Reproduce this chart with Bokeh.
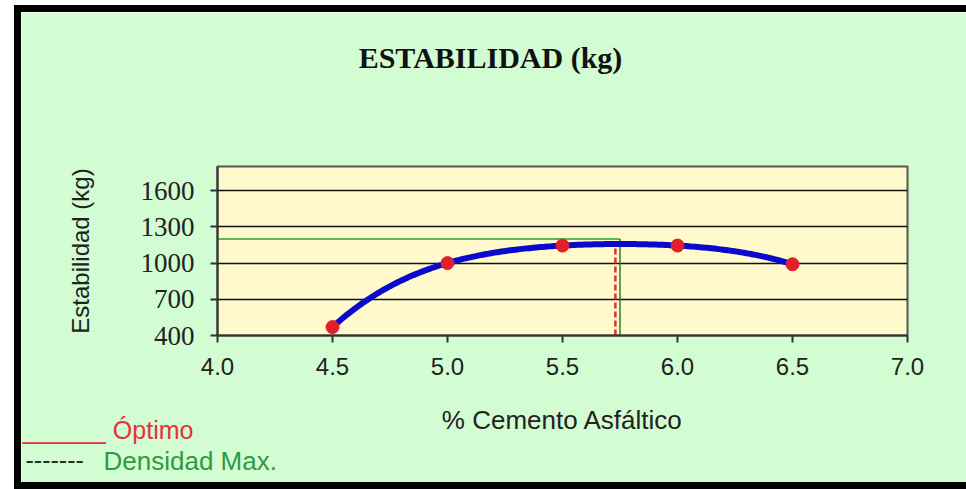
import numpy as np
from bokeh.plotting import figure
from bokeh.layouts import column
from bokeh.models import FixedTicker, Label, NumeralTickFormatter
from bokeh.embed import file_html
from bokeh.resources import INLINE

# ---- data ----
cemento = [4.5, 5.0, 5.5, 6.0, 6.5]
estabilidad = [470, 1000, 1145, 1145, 990]
x_ticks = [4.0, 4.5, 5.0, 5.5, 6.0, 6.5, 7.0]
y_ticks = [400, 700, 1000, 1300, 1600]
optimo_x = 5.73
dens_max_x = 5.75
dens_max_y = 1200
y_min, y_max = 400, 1800
x_min, x_max = 4.0, 7.0

# trendline (polynomial through the data)
coef = np.polyfit(cemento, estabilidad, 4)
xs = np.linspace(cemento[0], cemento[-1], 200)
ys = np.polyval(coef, xs)
optimo_y = float(np.polyval(coef, optimo_x))

# ---- layout geometry (page pixels) ----
BW = 7
BOX_L, BOX_T = 14, 5
CX0, CY0 = BOX_L + BW, BOX_T + BW          # canvas origin on the page
W, H = 966 - CX0, 489 - BW - CY0           # canvas size
FR_L, FR_R, FR_T, FR_B = 217, 907, 166, 335  # plot frame on the page

p = figure(width=W, height=H, output_backend="svg", toolbar_location=None,
           x_range=(x_min, x_max), y_range=(y_min, y_max),
           min_border_left=FR_L - CX0, min_border_right=CX0 + W - FR_R,
           min_border_top=FR_T - CY0, min_border_bottom=CY0 + H - FR_B)

p.border_fill_color = "#d2fcd2"
p.background_fill_color = "#fff9cc"
p.outline_line_color = "#555555"
p.outline_line_width = 2
p.title.text = ""

# axes
p.xaxis.ticker = FixedTicker(ticks=x_ticks)
p.yaxis.ticker = FixedTicker(ticks=y_ticks)
p.xaxis.formatter = NumeralTickFormatter(format="0.0")
p.xaxis.minor_tick_line_color = None
p.yaxis.minor_tick_line_color = None
for ax in (p.xaxis, p.yaxis):
    ax.axis_line_color = "#333333"
    ax.axis_line_width = 2
    ax.major_tick_line_color = "#333333"
    ax.major_tick_line_width = 2
    ax.major_tick_out = 7
    ax.major_tick_in = 0
    ax.major_label_text_color = "#222222"
    ax.axis_label_text_color = "#222222"
    ax.axis_label_text_font_style = "normal"

p.xaxis.major_label_text_font = "Liberation Sans"
p.xaxis.major_label_text_font_size = "24px"
p.xaxis.major_label_standoff = 15
p.xaxis.axis_label = "% Cemento Asfáltico"
p.xaxis.axis_label_text_font = "Liberation Sans"
p.xaxis.axis_label_text_font_size = "26px"
p.xaxis.axis_label_standoff = 27

p.yaxis.major_label_text_font = "Liberation Serif"
p.yaxis.major_label_text_font_size = "27px"
p.yaxis.major_label_standoff = 16
p.yaxis.axis_label = "Estabilidad (kg)"
p.yaxis.axis_label_text_font = "Liberation Sans"
p.yaxis.axis_label_text_font_size = "24px"
p.yaxis.axis_label_standoff = 44

# grid
p.xgrid.grid_line_color = None
p.ygrid.grid_line_color = "#111111"
p.ygrid.grid_line_width = 1.5

# reference lines
p.line([x_min, dens_max_x], [dens_max_y, dens_max_y], line_color="#5cb85c", line_width=2)
p.line([dens_max_x, dens_max_x], [y_min, dens_max_y], line_color="#2e7d32", line_width=1.5)
p.line([optimo_x, optimo_x], [y_min, optimo_y], line_color="#e03030", line_width=2.5, line_dash="6 3")

# trendline & points
p.line(xs, ys, line_color="#0a0acc", line_width=6)
p.scatter(cemento, estabilidad, size=13, fill_color="#e0202a", line_color="#e0202a")

# texts outside the frame: placed in the top side panel (not clipped),
# positioned through the plot scales from page pixel positions
def page_to_data(px, py):
    dx = x_min + (px - FR_L) * (x_max - x_min) / (FR_R - FR_L)
    dy = y_min + (FR_B - py) * (y_max - y_min) / (FR_B - FR_T)
    return dx, dy

def lab(px, py, **kw):
    dx, dy = page_to_data(px, py)
    p.add_layout(Label(x=dx, y=dy, text_baseline="alphabetic", **kw), "above")

lab(490, 57, text="ESTABILIDAD (kg)", text_align="center",
    text_font="Liberation Serif", text_font_style="bold",
    text_font_size="30px", text_color="#111111")
lab(22, 429, text="______ Óptimo", text_font="Liberation Sans",
    text_font_size="25px", text_color="#e83040")
lab(25, 459, text="-------", text_font="Liberation Sans",
    text_font_size="25px", text_color="#1f3320")
lab(103, 460, text="Densidad Max.", text_font="Liberation Sans",
    text_font_size="26px", text_color="#2f9a40")

layout = column(p, margin=(BOX_T, 0, 0, BOX_L),
                styles={"border": f"{BW}px solid black", "border-right": "none"})

open("out.html", "w").write(file_html(layout, INLINE))
